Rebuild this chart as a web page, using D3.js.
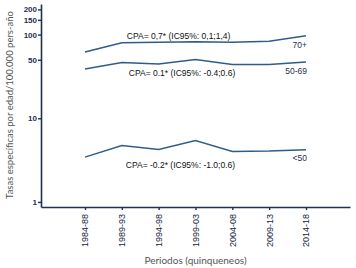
<!DOCTYPE html>
<html>
<head>
<meta charset="utf-8">
<script src="https://cdn.jsdelivr.net/npm/d3@7"></script>
<style>
  body { margin: 0; background: #fff; }
</style>
</head>
<body>
<svg id="drawing_region"></svg>
<script>
const periods = ["1984-88", "1989-93", "1994-98", "1999-03", "2004-08", "2009-13", "2014-18"];
const rates70 = [62, 80, 81, 82, 81, 83, 97];
const rates5069 = [38.7, 46.4, 44.4, 50.4, 44, 44, 46.9];
const ratesUnder50 = [3.43, 4.73, 4.24, 5.42, 4.02, 4.05, 4.2];
const seriesNames = ["70+", "50-69", "<50"];
const cpaLabels = ["CPA= 0,7* (IC95%: 0,1;1,4)", "CPA= 0.1* (IC95%: -0.4;0.6)", "CPA= -0.2* (IC95%: -1.0;0.6)"];
const yTicks = [1, 10, 50, 100, 150, 200];

const width = 356, height = 268;
const margin = {top: 4, right: 5, bottom: 61, left: 41};
const inner_width = width - margin.left - margin.right;
const inner_height = height - margin.top - margin.bottom;

const svg = d3.select('#drawing_region')
    .attr('width', width)
    .attr('height', height);

const chart = svg.append('g')
    .attr('transform', `translate(${margin.left}, ${margin.top})`);

const xscale = d3.scalePoint()
    .domain(periods)
    .range([0, inner_width - 1])
    .padding(1.195);

const yscale = d3.scaleLog()
    .domain([0.87, 232])
    .range([inner_height, 0]);

const axisColor = '#1f3050';

// y axis
const yaxis_group = chart.append('g')
    .call(d3.axisLeft(yscale).tickValues(yTicks).tickFormat(d3.format('d')).tickSize(3).tickSizeOuter(0).tickPadding(1));
// x axis
const xaxis_group = chart.append('g')
    .attr('transform', `translate(0, ${inner_height})`)
    .call(d3.axisBottom(xscale).tickSize(3).tickSizeOuter(0).tickPadding(4));

[yaxis_group, xaxis_group].forEach(g => {
    g.select('.domain').attr('stroke', axisColor).attr('stroke-width', 1.6);
    g.selectAll('.tick line').attr('stroke', axisColor).attr('stroke-width', 1.4);
    g.selectAll('.tick text')
        .attr('fill', axisColor)
        .attr('font-family', 'Liberation Sans, Arial, sans-serif')
        .attr('font-size', '8px');
});
yaxis_group.selectAll('.tick text').attr('font-weight', 600);

xaxis_group.selectAll('.tick text')
    .attr('transform', 'rotate(-90)')
    .attr('text-anchor', 'end')
    .attr('dy', '0.32em')
    .attr('x', -7)
    .attr('y', 0)
    .attr('font-size', '9px')
    .attr('fill', '#141e3a');

// lines
const allSeries = [rates70, rates5069, ratesUnder50];
const line = d3.line()
    .x((d, i) => xscale(periods[i]))
    .y(d => yscale(d));

allSeries.forEach(s => {
    chart.append('path')
        .attr('d', line(s))
        .attr('fill', 'none')
        .attr('stroke', '#2f5d8a')
        .attr('stroke-width', 1.5);
});

// series names at right end
const lastX = xscale(periods[periods.length - 1]) + 1;
const nameDy = [12, 12, 11];
allSeries.forEach((s, i) => {
    chart.append('text')
        .attr('x', lastX)
        .attr('y', yscale(s[s.length - 1]) + nameDy[i])
        .attr('text-anchor', 'end')
        .attr('font-family', 'Liberation Sans, Arial, sans-serif')
        .attr('font-size', '8.5px')
        .attr('fill', '#1f3050')
        .text(seriesNames[i]);
});

// CPA annotations
const cpaPos = [
    {x: xscale(periods[1]) + 5, v: rates70[1], dy: -4},
    {x: xscale(periods[1]) + 7, v: rates5069[1], dy: 14},
    {x: xscale(periods[1]) + 4, v: ratesUnder50[1], dy: 23}
];
cpaPos.forEach((p, i) => {
    chart.append('text')
        .attr('x', p.x)
        .attr('y', yscale(p.v) + p.dy)
        .attr('font-family', 'Liberation Sans, Arial, sans-serif')
        .attr('font-size', '8.5px')
        .attr('fill', '#111')
        .text(cpaLabels[i]);
});

// axis titles
svg.append('text')
    .attr('x', margin.left + xscale(periods[3]))
    .attr('y', 264)
    .attr('text-anchor', 'middle')
    .attr('font-family', 'Lato, sans-serif')
    .attr('font-size', '10px')
    .attr('fill', '#555')
    .text('Periodos (quinqueneos)');

svg.append('text')
    .attr('transform', 'rotate(-90)')
    .attr('x', -105)
    .attr('y', 13)
    .attr('text-anchor', 'middle')
    .attr('font-family', 'Lato, sans-serif')
    .attr('font-size', '9.5px')
    .attr('fill', '#555')
    .text('Tasas específicas por edad/100.000 pers-año');
</script>
</body>
</html>
